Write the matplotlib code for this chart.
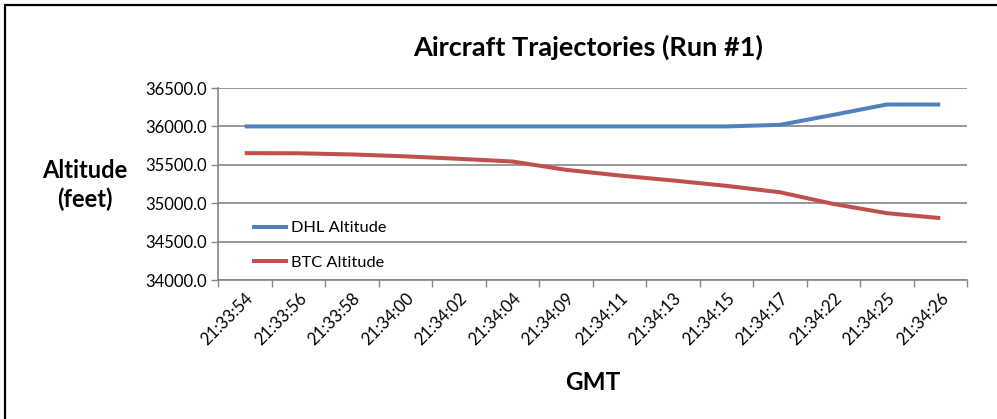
import matplotlib.pyplot as plt
from matplotlib.patches import Rectangle
from matplotlib.ticker import FixedLocator, FormatStrFormatter
import numpy as np

times = ["21:33:54", "21:33:56", "21:33:58", "21:34:00", "21:34:02", "21:34:04", "21:34:09",
         "21:34:11", "21:34:13", "21:34:15", "21:34:17", "21:34:22", "21:34:25", "21:34:26"]
dhl_alt = [36000, 36000, 36000, 36000, 36000, 36000, 36000,
           36000, 36000, 36000, 36020, 36150, 36285, 36285]
btc_alt = [35652, 35650, 35635, 35610, 35578, 35543, 35435,
           35361, 35296, 35226, 35143, 34991, 34870, 34806]
y_ticks = [34000, 34500, 35000, 35500, 36000, 36500]

plt.rcParams['font.family'] = ['Lato', 'DejaVu Sans']

fig = plt.figure(figsize=(9.97, 4.19), dpi=100)
W, H = 997, 419
ax = fig.add_axes([218 / W, 1 - 280 / H, (967 - 218) / W, (280 - 88) / H])

# outer chart border (cut off at right and bottom like the reference)
fig.patches.append(Rectangle((5 / W, -0.1), 1.2, 1.1 - 5 / H, transform=fig.transFigure,
                             fill=False, edgecolor="black", linewidth=1.6))

x = np.arange(len(times))
ax.plot(x, dhl_alt, color="#4F81BD", lw=2.9, label="DHL Altitude", solid_capstyle="butt")
ax.plot(x, btc_alt, color="#C0504D", lw=2.9, label="BTC Altitude", solid_capstyle="butt")

gray = "#868686"
ax.set_xlim(-0.5, len(times) - 0.5)
ax.set_ylim(34000, 36500)
ax.set_yticks(y_ticks)
ax.yaxis.set_major_formatter(FormatStrFormatter("%.1f"))
ax.set_xticks(x)
ax.set_xticklabels(times, rotation=45, ha="right", va="top", rotation_mode="anchor")
ax.xaxis.set_minor_locator(FixedLocator(np.arange(-0.5, len(times), 1.0)))
ax.tick_params(axis="x", which="major", length=0, pad=7, labelsize=12, colors="black")
ax.tick_params(axis="x", which="minor", length=5, width=1, color=gray)
ax.tick_params(axis="y", length=5, width=1, color=gray, labelsize=12, pad=3)
ax.grid(axis="y", color=gray, lw=1.2)
ax.set_axisbelow(True)
for s in ["top", "right"]:
    ax.spines[s].set_visible(False)
for s in ["left", "bottom"]:
    ax.spines[s].set_color(gray)
    ax.spines[s].set_linewidth(1.2)

fig.text(588 / W, 1 - 47 / H, "Aircraft Trajectories (Run #1)", ha="center", va="center",
         fontsize=19.5, fontweight="bold")
fig.text(85 / W, 1 - 185 / H, "Altitude\n(feet)", ha="center", va="center",
         fontsize=17, fontweight="bold", linespacing=1.3)
fig.text(593 / W, 1 - 382 / H, "GMT", ha="center", va="center",
         fontsize=17.5, fontweight="bold")

ax.legend(loc="lower left", bbox_to_anchor=(0.037, 0.02), frameon=False, fontsize=11.8,
          handlelength=2.2, handletextpad=0.15, labelspacing=1.2, borderaxespad=0)

fig.savefig("out.png", dpi=100)
